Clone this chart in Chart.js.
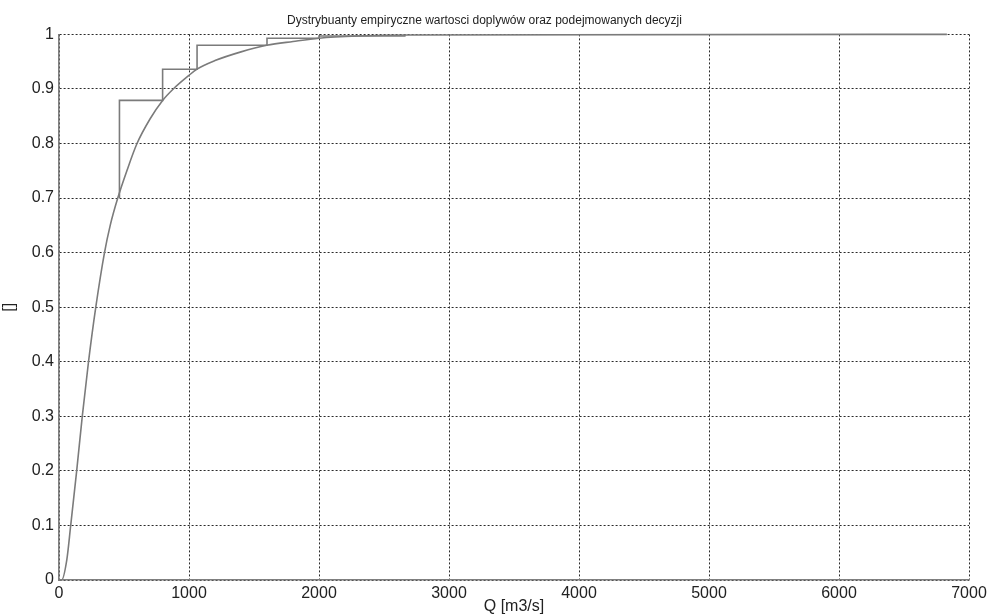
<!DOCTYPE html>
<html>
<head>
<meta charset="utf-8">
<script src="https://cdn.jsdelivr.net/npm/chart.js@4/dist/chart.umd.min.js"></script>
<style>
  html, body { margin: 0; padding: 0; background: #fff; }
  #wrap { width: 991px; height: 616px; }
</style>
</head>
<body>
<div id="wrap"><canvas id="chart"></canvas></div>
<script>
// empirical CDF of inflows (smooth looking curve)
const curveQ = [0, 20, 60, 90, 136, 179, 227, 283, 350, 394, 452, 522, 600, 700, 797, 879, 1000, 1059, 1200, 1400, 1598, 1800, 2000, 2300, 2700, 6830];
const curveF = [0, 0, 0.037, 0.1, 0.2, 0.3, 0.4, 0.5, 0.6, 0.65, 0.7, 0.75, 0.8, 0.845, 0.879, 0.9, 0.925, 0.936, 0.952, 0.968, 0.98, 0.987, 0.993, 0.997, 0.999, 1];

// CDF of decisions (step function)
const stepQ = [465, 465, 797, 1062, 1600, 2000, 2660];
const stepF = [0.70, 0.879, 0.936, 0.980, 0.993, 0.997, 1];

const xTicks = [0, 1000, 2000, 3000, 4000, 5000, 6000, 7000];
const yTicks = [0, 0.1, 0.2, 0.3, 0.4, 0.5, 0.6, 0.7, 0.8, 0.9, 1];

const lineColor = '#7b7b7b';
const gridColor = '#2a2a2a';
const axisColor = '#7f7f7f';
const font = 'Arial, "Liberation Sans", sans-serif';

const toPoints = (xs, ys) => xs.map((x, i) => ({ x, y: ys[i] }));

new Chart(document.getElementById('chart'), {
  type: 'scatter',
  data: {
    datasets: [
      {
        label: 'doplywy',
        data: toPoints(curveQ, curveF),
        showLine: true,
        borderColor: lineColor,
        borderWidth: 1.6,
        pointRadius: 0,
        cubicInterpolationMode: 'monotone',
        clip: 4,
      },
      {
        label: 'decyzje',
        data: toPoints(stepQ, stepF),
        showLine: true,
        stepped: true,
        borderColor: lineColor,
        borderWidth: 1.6,
        pointRadius: 0,
        clip: 4,
      },
    ],
  },
  options: {
    responsive: true,
    maintainAspectRatio: false,
    animation: false,
    layout: { padding: { left: 0, right: 22, top: 0, bottom: 0 } },
    plugins: {
      legend: { display: false },
      tooltip: { enabled: false },
      title: {
        display: true,
        text: 'Dystrybuanty empiryczne wartosci doplywów oraz podejmowanych decyzji',
        color: '#222',
        font: { family: font, size: 12, weight: 'normal' },
        padding: { top: 13, bottom: 7 },
      },
    },
    scales: {
      x: {
        type: 'linear',
        min: 0,
        max: 7000,
        afterBuildTicks: (scale) => { scale.ticks = xTicks.map((v) => ({ value: v })); },
        afterFit: (scale) => { scale.height = 36; },
        ticks: {
          color: '#222',
          font: { family: font, size: 16 },
          padding: 4,
          maxRotation: 0,
          callback: (v) => String(v),
        },
        grid: { color: gridColor, lineWidth: 1, drawTicks: false },
        border: { display: true, color: axisColor, width: 1.6, dash: [2, 2] },
        title: {
          display: true,
          text: 'Q [m3/s]',
          color: '#222',
          font: { family: font, size: 16 },
          padding: { top: -4, bottom: 0 },
        },
      },
      y: {
        type: 'linear',
        min: 0,
        max: 1,
        afterBuildTicks: (scale) => { scale.ticks = yTicks.map((v) => ({ value: v })); },
        afterFit: (scale) => { scale.width = 59; },
        ticks: {
          color: '#222',
          font: { family: font, size: 16 },
          padding: 5,
          callback: (v) => String(Number(v.toFixed(1))),
        },
        grid: { color: gridColor, lineWidth: 1, drawTicks: false },
        border: { display: true, color: axisColor, width: 1.6, dash: [2, 2] },
        title: {
          display: true,
          text: '[]',
          color: '#222',
          font: { family: font, size: 16 },
          padding: { top: 0, bottom: 0 },
        },
      },
    },
  },
});
</script>
</body>
</html>
